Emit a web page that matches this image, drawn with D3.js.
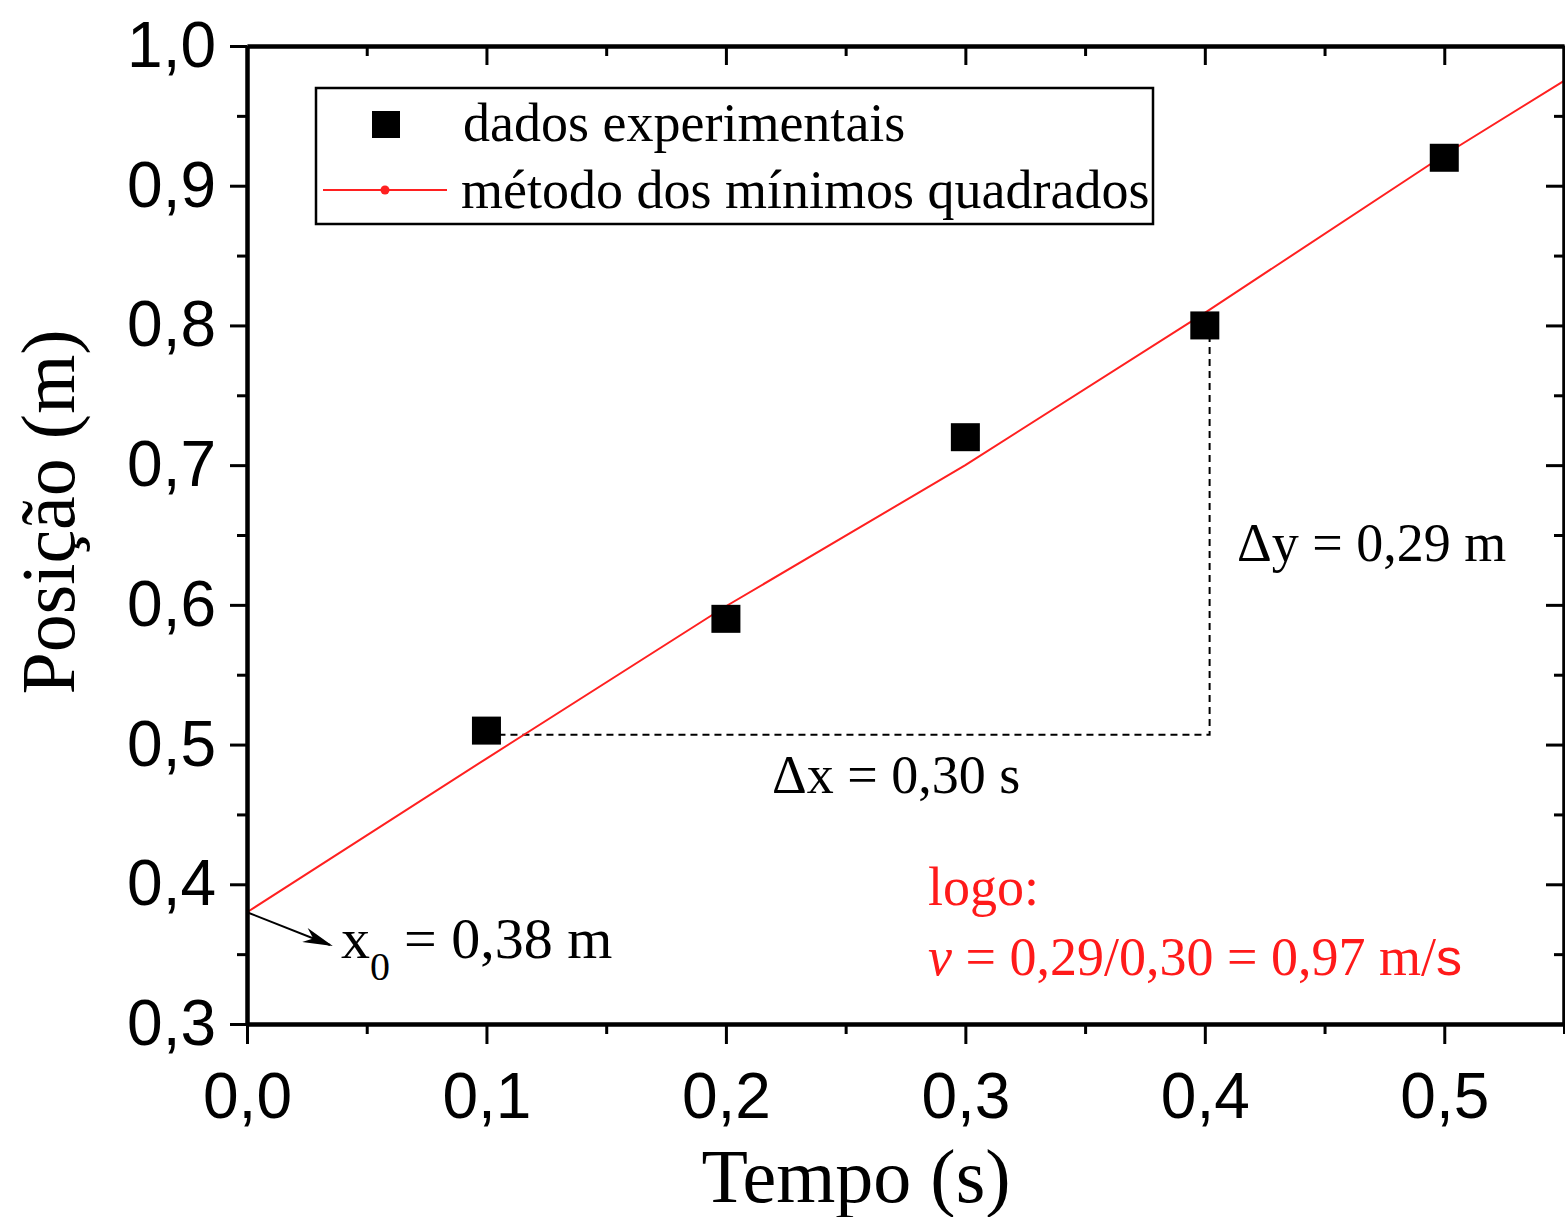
<!DOCTYPE html>
<html>
<head>
<meta charset="utf-8">
<script src="https://cdn.jsdelivr.net/npm/d3@7"></script>
<style>
  body { margin: 0; background: #fff; }
  svg { display: block; }
</style>
</head>
<body>
<div></div>
<script>
// experimental data
var tempo = [0.1, 0.2, 0.3, 0.4, 0.5];
var posicao = [0.51, 0.59, 0.72, 0.80, 0.92];

// least squares line as drawn
var ajusteT = [0, 0.1, 0.2, 0.3, 0.4, 0.5, 0.55];
var ajusteY = [0.38, 0.490, 0.599, 0.700, 0.809, 0.922, 0.975];

// triangle used for the slope
var delta = [[0.1, 0.507], [0.402, 0.507], [0.402, 0.80]];

var xTicks = [0, 0.1, 0.2, 0.3, 0.4, 0.5];
var xMinor = [0.05, 0.15, 0.25, 0.35, 0.45, 0.55];
var yTicks = [0.3, 0.4, 0.5, 0.6, 0.7, 0.8, 0.9, 1.0];
var yMinor = [0.35, 0.45, 0.55, 0.65, 0.75, 0.85, 0.95];

function init() {
    var w = 1565;
    var h = 1217;
    var left = 247, right = 1564, top = 46, bottom = 1024;
    var serif = "'Liberation Serif', 'Times New Roman', serif";
    var sans = "'Liberation Sans', Arial, sans-serif";

    var xScale = d3.scaleLinear().domain([0, 0.55]).range([left, right]);
    var yScale = d3.scaleLinear().domain([0.3, 1.0]).range([bottom, top]);

    var fmt = function(d) { return d.toFixed(1).replace(".", ","); };

    var svg = d3.select("div")
                .append("svg")
                .attr("width", w)
                .attr("height", h);

    // dashed delta lines
    svg.append("path")
        .attr("d", d3.line().x(d => xScale(d[0])).y(d => yScale(d[1]))(delta))
        .attr("fill", "none")
        .attr("stroke", "#000")
        .attr("stroke-width", 2)
        .attr("stroke-dasharray", "7,5");

    // fit line
    svg.append("path")
        .datum(ajusteT.map((t, i) => [t, ajusteY[i]]))
        .attr("d", d3.line().x(d => xScale(d[0])).y(d => yScale(d[1])))
        .attr("fill", "none")
        .attr("stroke", "#ff2020")
        .attr("stroke-width", 2);

    // squares
    var s = 29;
    svg.selectAll("rect.ponto")
        .data(tempo)
        .enter()
        .append("rect")
        .attr("class", "ponto")
        .attr("x", d => xScale(d) - s / 2)
        .attr("y", (d, i) => yScale(posicao[i]) - s / 2 + 0.5)
        .attr("width", s)
        .attr("height", s - 1)
        .attr("fill", "#000");

    // axes
    function style(g, labels) {
        g.select(".domain").attr("stroke-width", 4);
        g.selectAll(".tick line").attr("stroke-width", 3);
        g.selectAll(".tick text")
            .attr("font-family", sans)
            .attr("font-size", 64)
            .attr("fill", "#000");
        if (!labels) g.selectAll(".tick text").remove();
    }

    var gb = svg.append("g").attr("transform", "translate(0," + bottom + ")")
        .call(d3.axisBottom(xScale).tickValues(xTicks).tickSize(20).tickSizeOuter(0).tickPadding(16).tickFormat(fmt));
    style(gb, true);
    gb.selectAll(".tick text").attr("dy", "0.9em");
    svg.append("g").attr("transform", "translate(0," + bottom + ")")
        .call(d3.axisBottom(xScale).tickValues(xMinor).tickSize(10).tickSizeOuter(0).tickFormat(""))
        .call(g => style(g, false));

    var gl = svg.append("g").attr("transform", "translate(" + left + ",0)")
        .call(d3.axisLeft(yScale).tickValues(yTicks).tickSize(17).tickSizeOuter(0).tickPadding(14).tickFormat(fmt));
    style(gl, true);
    svg.append("g").attr("transform", "translate(" + left + ",0)")
        .call(d3.axisLeft(yScale).tickValues(yMinor).tickSize(10).tickSizeOuter(0).tickFormat(""))
        .call(g => style(g, false));

    // top and right, ticks inward
    svg.append("g").attr("transform", "translate(0," + top + ")")
        .call(d3.axisBottom(xScale).tickValues(xTicks).tickSize(19).tickSizeOuter(0).tickFormat(""))
        .call(g => style(g, false));
    svg.append("g").attr("transform", "translate(0," + top + ")")
        .call(d3.axisBottom(xScale).tickValues(xMinor).tickSize(10).tickSizeOuter(0).tickFormat(""))
        .call(g => style(g, false));
    svg.append("g").attr("transform", "translate(" + right + ",0)")
        .call(d3.axisLeft(yScale).tickValues(yTicks).tickSize(18).tickSizeOuter(0).tickFormat(""))
        .call(g => style(g, false));
    svg.append("g").attr("transform", "translate(" + right + ",0)")
        .call(d3.axisLeft(yScale).tickValues(yMinor).tickSize(10).tickSizeOuter(0).tickFormat(""))
        .call(g => style(g, false));

    // axis titles
    svg.append("text")
        .attr("x", 856).attr("y", 1202)
        .attr("text-anchor", "middle")
        .attr("font-family", serif)
        .attr("font-size", 76)
        .text("Tempo (s)");
    svg.append("text")
        .attr("transform", "translate(74,512) rotate(-90)")
        .attr("text-anchor", "middle")
        .attr("font-family", serif)
        .attr("font-size", 76)
        .text("Posição (m)");

    // legend
    svg.append("rect")
        .attr("x", 316).attr("y", 88).attr("width", 837).attr("height", 136)
        .attr("fill", "#fff").attr("stroke", "#000").attr("stroke-width", 2.5);
    svg.append("rect")
        .attr("x", 372).attr("y", 111).attr("width", 28).attr("height", 27)
        .attr("fill", "#000");
    svg.append("line")
        .attr("x1", 323).attr("x2", 447).attr("y1", 190).attr("y2", 190)
        .attr("stroke", "#ff2020").attr("stroke-width", 2);
    svg.append("circle")
        .attr("cx", 385).attr("cy", 190).attr("r", 4.5).attr("fill", "#ff2020");
    svg.append("text")
        .attr("x", 463).attr("y", 141)
        .attr("font-family", serif).attr("font-size", 54)
        .text("dados experimentais");
    svg.append("text")
        .attr("x", 461).attr("y", 208)
        .attr("font-family", serif).attr("font-size", 54)
        .text("método dos mínimos quadrados");

    // annotations
    var ann = svg.append("g").attr("font-family", serif).attr("font-size", 54);
    ann.append("text").attr("x", 1237).attr("y", 561).text("Δy = 0,29 m");
    ann.append("text").attr("x", 772).attr("y", 793).text("Δx = 0,30 s");

    var x0 = ann.append("text").attr("x", 341).attr("y", 958).attr("font-size", 58);
    x0.append("tspan").text("x");
    x0.append("tspan").attr("font-size", 40).attr("dy", 22).text("0");
    x0.append("tspan").attr("x", 404).attr("dy", -22).text("= 0,38 m");

    ann.append("text").attr("x", 928).attr("y", 905).attr("fill", "#ff1a1a").text("logo:");
    var vt = ann.append("text").attr("x", 928).attr("y", 975).attr("fill", "#ff1a1a");
    vt.append("tspan").attr("font-style", "italic").text("v");
    vt.append("tspan").text(" = 0,29/0,30 = 0,97 m/");
    vt.append("tspan").attr("font-family", sans).attr("font-size", 52).text("s");

    // arrow to x0
    svg.append("defs").append("marker")
        .attr("id", "seta")
        .attr("viewBox", "0 0 10 10")
        .attr("preserveAspectRatio", "none")
        .attr("refX", 9).attr("refY", 5)
        .attr("markerWidth", 30).attr("markerHeight", 15)
        .attr("markerUnits", "userSpaceOnUse")
        .attr("orient", "auto")
        .append("path").attr("d", "M0,0 L10,5 L0,10 L3,5 Z").attr("fill", "#000");
    svg.append("line")
        .attr("x1", xScale(0)).attr("y1", yScale(0.38))
        .attr("x2", 330).attr("y2", 945)
        .attr("stroke", "#000").attr("stroke-width", 2)
        .attr("marker-end", "url(#seta)");
}

window.onload = init;
</script>
</body>
</html>
